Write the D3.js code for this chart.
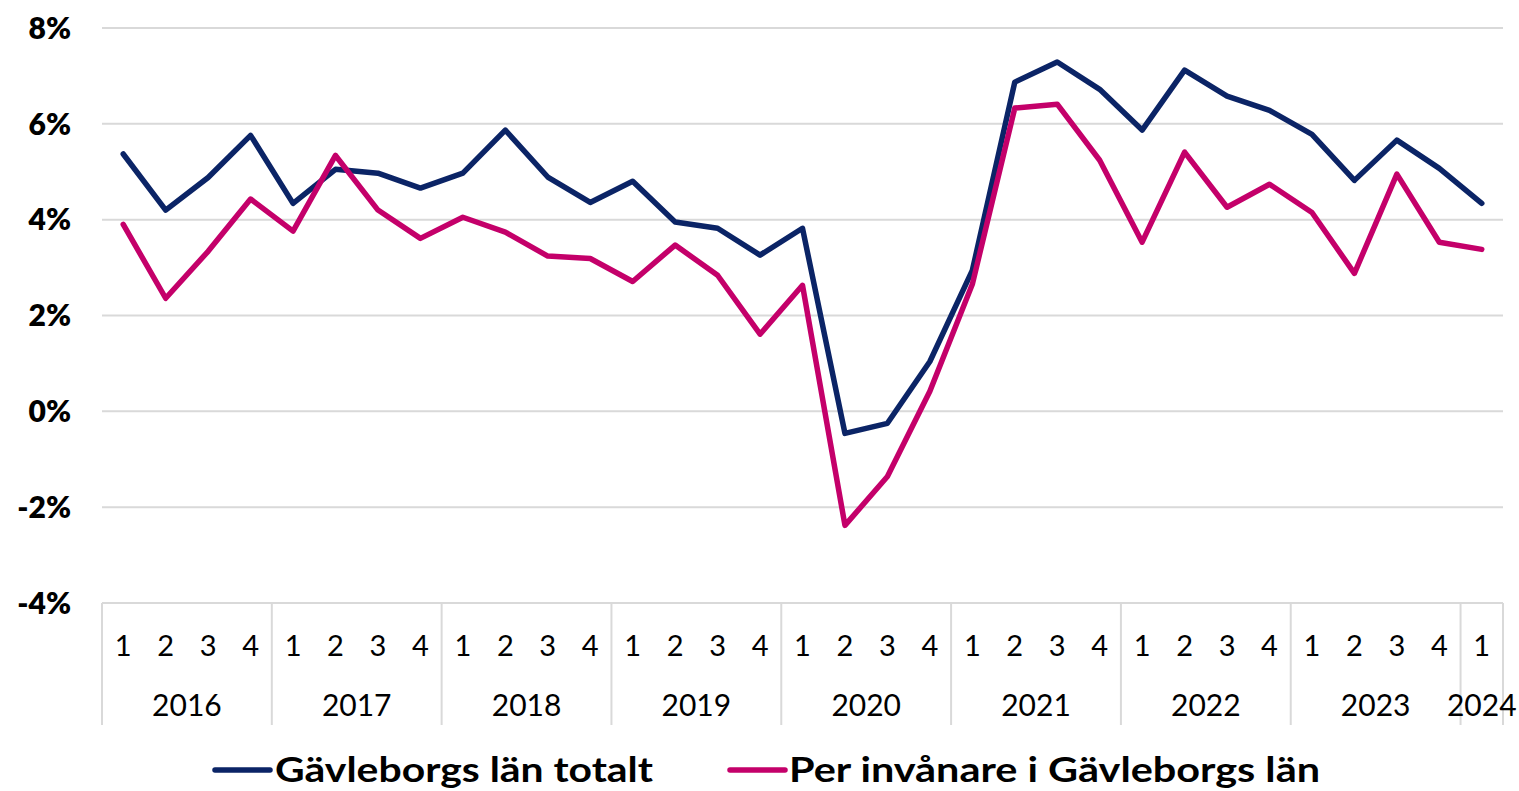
<!DOCTYPE html>
<html><head><meta charset="utf-8">
<script src="https://cdn.jsdelivr.net/npm/d3@7"></script>
<style>body{margin:0;background:#fff;}svg{display:block;}</style>
</head><body>
<svg id="c" width="1519" height="791"></svg>
<script>
const years = ["2016","2017","2018","2019","2020","2021","2022","2023","2024"];
const quarters = ["1","2","3","4"];
const totalt = [5.37,4.2,4.88,5.76, 4.34,5.05,4.97,4.66, 4.97,5.87,4.89,4.36, 4.8,3.95,3.82,3.26, 3.82,-0.46,-0.25,1.04, 2.94,6.87,7.29,6.72, 5.87,7.12,6.58,6.28, 5.78,4.82,5.66,5.07, 4.34];
const perInv = [3.9,2.36,3.34,4.43, 3.76,5.34,4.2,3.61, 4.05,3.74,3.24,3.19, 2.71,3.47,2.84,1.61, 2.63,-2.38,-1.36,0.42, 2.65,6.33,6.41,5.24, 3.53,5.41,4.26,4.74, 4.15,2.88,4.95,3.53, 3.38];
const yTicks = [-4,-2,0,2,4,6,8];
const seriesNames = ["Gävleborgs län totalt","Per invånare i Gävleborgs län"];
const colors = ["#0b2466","#c4006a"];

const periods = [];
years.forEach(y => quarters.forEach(q => { if (periods.length < totalt.length) periods.push({y, q, key: y + "-" + q}); }));

const svg = d3.select("#c");
const font = "Lato, 'Open Sans', sans-serif";
const x = d3.scaleBand().domain(periods.map(d => d.key)).range([102, 1503]).padding(0);
const y = d3.scaleLinear().domain([-4, 8]).range([603, 28]);

// gridlines
svg.append("g").selectAll("line").data(yTicks).join("line")
  .attr("x1", 102).attr("x2", 1503)
  .attr("y1", d => y(d)).attr("y2", d => y(d))
  .attr("stroke", "#d9d9d9").attr("stroke-width", 2);

// y labels
svg.append("g").selectAll("text").data(yTicks).join("text")
  .attr("x", 71).attr("y", d => y(d)).attr("dy", "0.36em")
  .attr("text-anchor", "end").attr("font-family", font).attr("font-weight", 800)
  .attr("font-size", 30).attr("fill", "#000").text(d => d + "%");

// category axis separators
const bottom = 725;
const yearStarts = years.map(yr => periods.findIndex(p => p.y === yr)).filter(i => i >= 0);
const sepX = yearStarts.map(i => x(periods[i].key)).concat([x.range()[1]]);
svg.append("g").selectAll("line").data(sepX).join("line")
  .attr("x1", d => d).attr("x2", d => d).attr("y1", 603).attr("y2", bottom)
  .attr("stroke", "#d9d9d9").attr("stroke-width", 2);

// quarter labels
svg.append("g").selectAll("text").data(periods).join("text")
  .attr("x", d => x(d.key) + x.bandwidth() / 2).attr("y", 656)
  .attr("text-anchor", "middle").attr("font-family", font).attr("font-size", 29)
  .attr("fill", "#000").text(d => d.q);

// year labels
svg.append("g").selectAll("text").data(years).join("text")
  .attr("x", yr => {
    const ps = periods.filter(p => p.y === yr);
    return (x(ps[0].key) + x(ps[ps.length - 1].key) + x.bandwidth()) / 2;
  })
  .attr("y", 716).attr("text-anchor", "middle").attr("font-family", font).attr("font-size", 30)
  .attr("fill", "#000").text(d => d);

// lines
const line = d3.line().x((d, i) => x(periods[i].key) + x.bandwidth() / 2).y(d => y(d));
[totalt, perInv].forEach((s, k) => {
  svg.append("path").datum(s).attr("d", line).attr("fill", "none")
    .attr("stroke", colors[k]).attr("stroke-width", 5.5)
    .attr("stroke-linejoin", "round").attr("stroke-linecap", "round");
});

// legend
const legend = [{x1: 215, x2: 270, tx: 275, w: 378}, {x1: 730, x2: 785, tx: 789, w: 531}];
legend.forEach((l, k) => {
  svg.append("line").attr("x1", l.x1).attr("x2", l.x2).attr("y1", 770).attr("y2", 770)
    .attr("stroke", colors[k]).attr("stroke-width", 5.5).attr("stroke-linecap", "round");
  svg.append("text").attr("x", l.tx).attr("y", 770).attr("dy", "0.36em")
    .attr("font-family", font).attr("font-weight", 700).attr("font-size", 34)
    .attr("textLength", l.w).attr("lengthAdjust", "spacingAndGlyphs")
    .attr("fill", "#000").text(seriesNames[k]);
});
</script>
</body></html>
